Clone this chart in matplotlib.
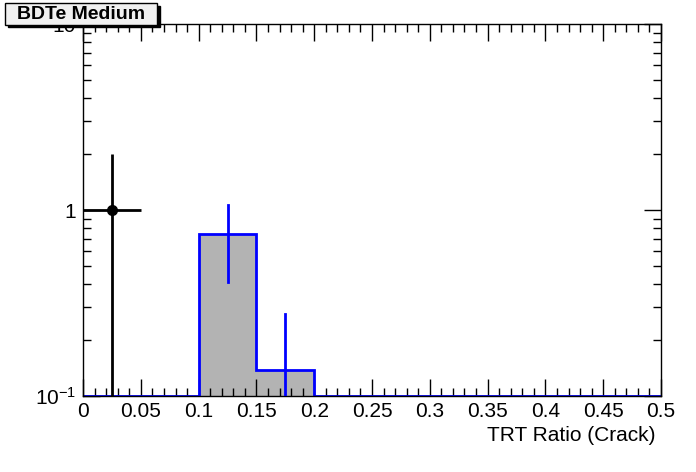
import matplotlib.pyplot as plt
import numpy as np
from matplotlib.ticker import MultipleLocator, LogLocator, NullFormatter, FixedLocator
from matplotlib.patches import Rectangle

plt.rcParams['font.family'] = ['Liberation Sans', 'DejaVu Sans']
plt.rcParams['mathtext.fontset'] = 'custom'
plt.rcParams['mathtext.rm'] = 'Liberation Sans'
plt.rcParams['mathtext.default'] = 'rm'

# histogram (MC) bins and contents
bin_edges = [0.0, 0.05, 0.1, 0.15, 0.2, 0.25, 0.3, 0.35, 0.4, 0.45, 0.5]
mc_values = [0.0, 0.0, 0.74, 0.138, 0.0, 0.0, 0.0, 0.0, 0.0, 0.0]
mc_errors = [0.0, 0.0, 0.33, 0.138, 0.0, 0.0, 0.0, 0.0, 0.0, 0.0]

# data points
data_x = [0.025]
data_y = [1.0]
data_xerr = [0.025]
data_yerr = [1.0]

ymin, ymax = 0.1, 10

fig = plt.figure(figsize=(6.96, 4.72), dpi=100)
ax = fig.add_axes([0.1193, 0.161, 0.8304, 0.788])
ax.set_yscale('log')
ax.set_xlim(0, 0.5)
ax.set_ylim(ymin, ymax)

edges = np.array(bin_edges)
vals = np.array(mc_values)
errs = np.array(mc_errors)
shown = np.clip(vals, ymin, None)

# grey filled histogram with blue outline
ax.stairs(shown, edges, baseline=ymin, fill=True, color='#b3b3b3', zorder=1)
ax.stairs(shown, edges, baseline=None, color='blue', lw=2, zorder=2)
centers = 0.5 * (edges[:-1] + edges[1:])
for c, v, e in zip(centers, vals, errs):
    if v > 0:
        lo = max(v - e, ymin * 0.5)
        ax.plot([c, c], [lo, v + e], color='blue', lw=2, zorder=3, clip_on=True)

ax.errorbar(data_x, data_y, xerr=data_xerr, yerr=[[d - 1e-3 for d in data_yerr], data_yerr],
            fmt='o', color='black', ms=7, lw=2, capsize=0, zorder=4)

ax.xaxis.set_major_locator(MultipleLocator(0.05))
ax.xaxis.set_minor_locator(MultipleLocator(0.01))
ax.xaxis.set_major_formatter(plt.FuncFormatter(lambda v, p: '0' if abs(v) < 1e-9 else ('%g' % v)))
ax.yaxis.set_major_locator(FixedLocator([0.1, 1, 10]))
ax.yaxis.set_major_formatter(plt.FuncFormatter(
    lambda v, p: {0.1: '$10^{-1}$', 1: '1', 10: '10'}.get(round(v, 3), '')))
ax.yaxis.set_minor_locator(LogLocator(base=10, subs=np.arange(2, 10)))
ax.yaxis.set_minor_formatter(NullFormatter())

ax.tick_params(which='both', direction='in', top=True, right=True, labelsize=15, width=1)
ax.tick_params(which='major', length=12)
ax.tick_params(which='minor', length=6)
ax.tick_params(axis='x', which='major', pad=4)
ax.tick_params(axis='y', which='major', pad=5)
for s in ax.spines.values():
    s.set_linewidth(1)

ax.set_xlabel('TRT Ratio (Crack)', fontsize=15, loc='right', labelpad=4)
ax.xaxis.label.set_x(0.99)

# title box with shadow
fig.patches.append(Rectangle((0.012, 0.942), 0.218, 0.046, transform=fig.transFigure,
                             facecolor='black', edgecolor='black', zorder=10))
fig.patches.append(Rectangle((0.007, 0.947), 0.218, 0.046, transform=fig.transFigure,
                             facecolor='#f0f0f0', edgecolor='black', lw=1, zorder=11))
fig.text(0.116, 0.969, 'BDTe Medium', fontsize=14, fontweight='bold',
         ha='center', va='center', zorder=12)

fig.savefig('out.png', dpi=100)
